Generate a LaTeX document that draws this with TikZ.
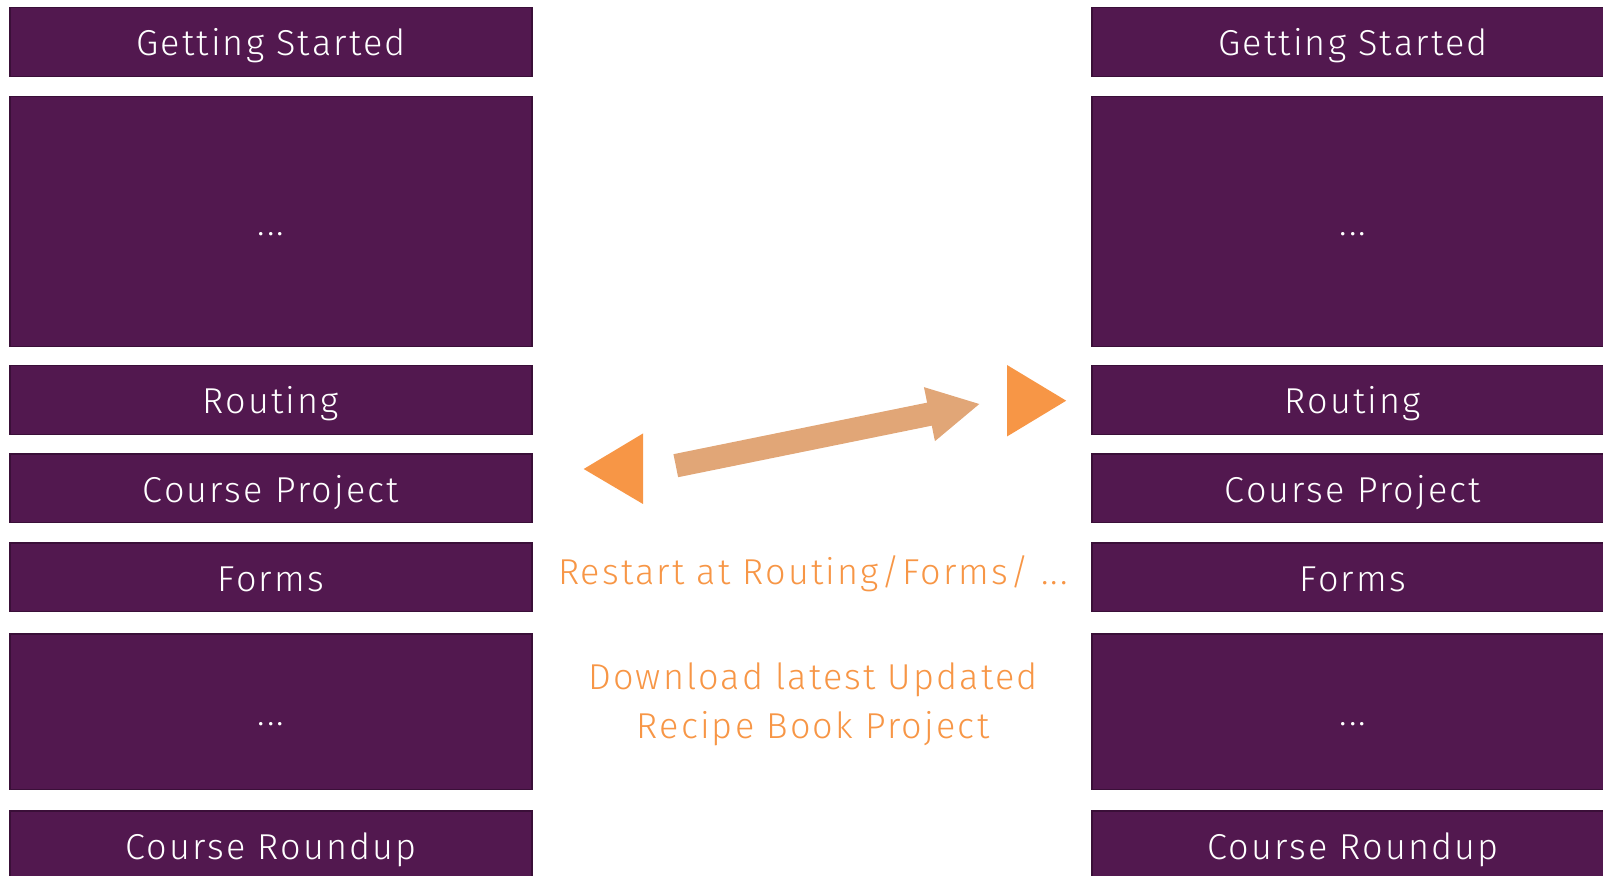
\documentclass[tikz,border=0pt]{standalone}
\usepackage{fontspec}
\setmainfont{Fira Sans}[UprightFont=* Light, LetterSpace=6]
\usetikzlibrary{arrows.meta,positioning}

\definecolor{boxfill}{HTML}{52184F}
\definecolor{boxedge}{HTML}{3A0F38}
\definecolor{hint}{HTML}{F79646}
\definecolor{arrowtan}{HTML}{E1A677}

\begin{document}
\begin{tikzpicture}[
  x=0.5pt, y=-0.5pt,
  lesson/.style={
    draw=boxedge,
    fill=boxfill,
    text=white,
    line width=0.7pt,
    outer sep=0pt,
    minimum width=261pt,
    minimum height=34.3pt,
    inner sep=0pt,
    text height=15pt,
    text depth=1pt,
    font=\fontsize{18}{21}\selectfont
  },
  tall/.style={minimum height=#1},
  note/.style={
    text=hint,
    align=center,
    inner sep=0pt,
    font=\fontsize{18}{24.5}\selectfont
  },
  play/.style={fill=hint},
  fatarrow/.style={-{Triangle[length=26pt,width=25.5pt]}, line width=11.75pt, draw=arrowtan}
]
\useasboundingbox (0,0) rectangle (1603,876);

% left column
\node[lesson] (startL) at (271,42) {Getting Started};
\node[lesson, tall=124.8pt, below=10.2pt of startL] (dotsAL) {...};
\node[lesson, below=9.7pt of dotsAL] (routeL) {Routing};
\node[lesson, below=9.95pt of routeL] (projL) {Course Project};
\node[lesson, below=10.2pt of projL] (formsL) {Forms};
\node[lesson, tall=77.8pt, below=11.2pt of formsL] (dotsBL) {...};
\node[lesson, below=10.7pt of dotsBL] (roundL) {Course Roundup};

% right column
\node[lesson, right=280pt of startL] (startR) {Getting Started};
\node[lesson, tall=124.8pt, right=280pt of dotsAL] (dotsAR) {...};
\node[lesson, right=280pt of routeL] (routeR) {Routing};
\node[lesson, right=280pt of projL] (projR) {Course Project};
\node[lesson, right=280pt of formsL] (formsR) {Forms};
\node[lesson, tall=77.8pt, right=280pt of dotsBL] (dotsBR) {...};
\node[lesson, right=280pt of roundL] (roundR) {Course Roundup};

% jump between the two runs
\fill[play] (643,433.5) -- (643,504) -- (583.7,469) -- cycle;
\fill[play] (1007,365) -- (1007,436.5) -- (1066.2,400.7) -- cycle;
\coordinate (jumpFrom) at (675.8,465.7);
\coordinate (jumpTo) at (980.4,403.8);
\draw[fatarrow] (jumpFrom) -- (jumpTo);

\node[note] (restart) at (813,574) {Restart at Routing/Forms/ ...};
\node[note] (download) at (813,704) {Download latest Updated\\Recipe Book Project};

\end{tikzpicture}
\end{document}
